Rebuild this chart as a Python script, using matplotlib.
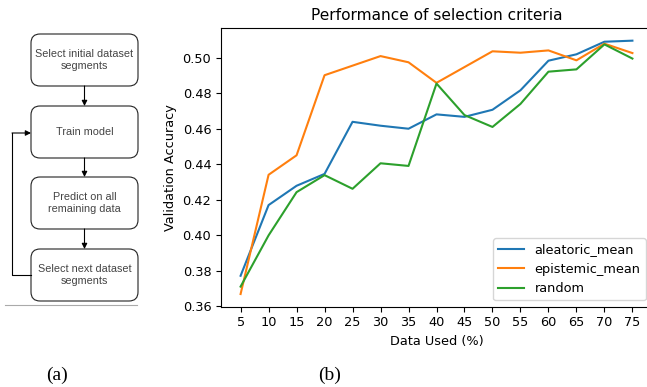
import numpy as np
import matplotlib
matplotlib.use("Agg")
import matplotlib.pyplot as plt
from matplotlib.patches import FancyBboxPatch

# data
data_used = [5, 10, 15, 20, 25, 30, 35, 40, 45, 50, 55, 60, 65, 70, 75]
aleatoric_mean = [0.3771, 0.4170, 0.4279, 0.4346, 0.4640, 0.4618, 0.4601, 0.4682,
                  0.4668, 0.4708, 0.4818, 0.4985, 0.5021, 0.5092, 0.5098]
epistemic_mean = [0.3668, 0.4341, 0.4451, 0.4903, 0.4957, 0.5011, 0.4976, 0.4860,
                  0.4949, 0.5038, 0.5030, 0.5043, 0.4987, 0.5081, 0.5028]
random_sel = [0.3710, 0.3999, 0.4243, 0.4339, 0.4262, 0.4406, 0.4391, 0.4856,
              0.4678, 0.4611, 0.4741, 0.4923, 0.4936, 0.5077, 0.4997]

flow_steps = ["Select initial dataset\nsegments", "Train model",
              "Predict on all\nremaining data", "Select next dataset\nsegments"]

plt.rcParams["font.size"] = 9.3

W, H = 647, 387
fig = plt.figure(figsize=(W / 100, H / 100), dpi=100)

# flowchart panel, drawn in pixel coords
fax = fig.add_axes([0, 0, 1, 1])
fax.set_xlim(0, W)
fax.set_ylim(H, 0)
fax.axis("off")

box_x, box_w, box_h = 31, 107, 52
box_tops = [34, 106, 177, 249]
for top, label in zip(box_tops, flow_steps):
    fax.add_patch(FancyBboxPatch((box_x, top), box_w, box_h,
                                 boxstyle="round,pad=0,rounding_size=9",
                                 fc="white", ec="#222222", lw=0.8))
    fax.text(box_x + box_w / 2, top + box_h / 2, label, ha="center", va="center",
             fontsize=7.8, color="#444444", family="Liberation Sans", linespacing=1.35)

cx = box_x + box_w / 2
for i in range(len(box_tops) - 1):
    fax.annotate("", xy=(cx, box_tops[i + 1]), xytext=(cx, box_tops[i] + box_h),
                 arrowprops=dict(arrowstyle="-|>", color="black", lw=0.8,
                                 mutation_scale=8, shrinkA=0, shrinkB=0))
# feedback loop
loop_y0 = box_tops[3] + 26
loop_y1 = box_tops[1] + 27
fax.plot([box_x, 12, 12], [loop_y0, loop_y0, loop_y1], color="black", lw=0.8)
fax.annotate("", xy=(box_x, loop_y1), xytext=(12, loop_y1),
             arrowprops=dict(arrowstyle="-|>", color="black", lw=0.8,
                             mutation_scale=8, shrinkA=0, shrinkB=0))
fax.plot([5, 137], [305, 305], color="#aaaaaa", lw=0.8)

# captions
fax.text(57, 375, "(a)", ha="center", va="center", fontsize=14, family="Liberation Serif")
fax.text(330, 375, "(b)", ha="center", va="center", fontsize=14, family="Liberation Serif")

# line chart
ax = fig.add_axes([221 / W, 1 - 306.7 / H, (652 - 221) / W, (306.7 - 28) / H])
ax.plot(data_used, aleatoric_mean, label="aleatoric_mean")
ax.plot(data_used, epistemic_mean, label="epistemic_mean")
ax.plot(data_used, random_sel, label="random")
ax.set_xticks(data_used)
ax.set_title("Performance of selection criteria", fontsize=11.1)
ax.set_xlabel("Data Used (%)")
ax.set_ylabel("Validation Accuracy")
ax.legend(loc="lower right")

fig.savefig("out.png", dpi=100)
